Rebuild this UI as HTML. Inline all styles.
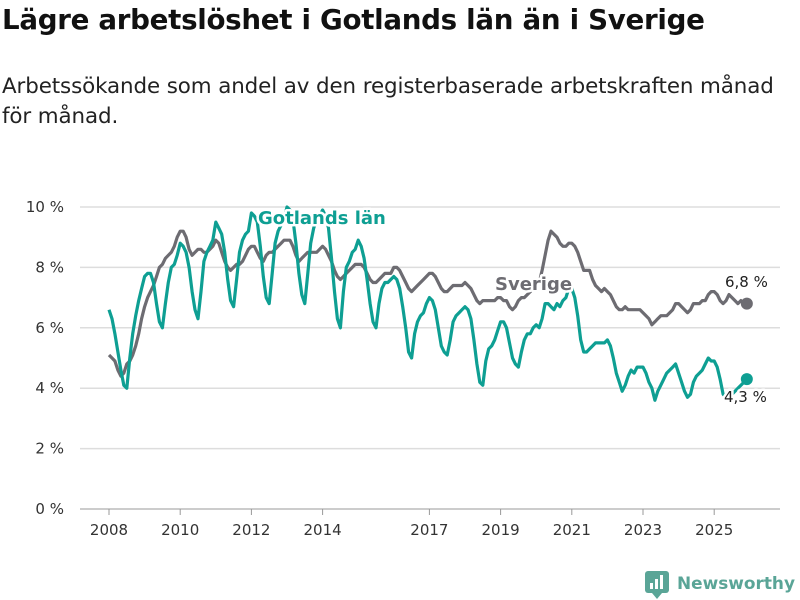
<!DOCTYPE html>
<html><head><meta charset="utf-8"><style>
body{margin:0;background:#fff;font-family:"Liberation Sans","DejaVu Sans",sans-serif;}
#wrap{position:relative;width:800px;height:600px;overflow:hidden}
h1{position:absolute;left:2px;top:3px;margin:0;font-size:27.7px;font-weight:bold;color:#111;font-family:"DejaVu Sans","Liberation Sans",sans-serif;letter-spacing:-0.3px}
p{position:absolute;left:2px;top:72px;margin:0;font-size:21.4px;line-height:30px;color:#222;width:792px;font-family:"DejaVu Sans","Liberation Sans",sans-serif;letter-spacing:-0.1px}
svg{position:absolute;left:0;top:0}
text{font-family:"DejaVu Sans","Liberation Sans",sans-serif}
</style></head><body><div id="wrap">
<h1>Lägre arbetslöshet i Gotlands län än i Sverige</h1>
<p>Arbetssökande som andel av den registerbaserade arbetskraften månad för månad.</p>
<svg id="chart" width="800" height="600"></svg>
</div>
<script>
const startYear = 2008;
const yTicks = [0,2,4,6,8,10];
const xTickYears = [2008,2010,2012,2014,2017,2019,2021,2023,2025];
const gotland = [
6.6,6.3,5.8,5.2,4.6,4.1,4.0,5.0,5.8,6.4,6.9,7.3,
7.7,7.8,7.8,7.5,6.8,6.2,6.0,6.8,7.5,8.0,8.1,8.4,
8.8,8.7,8.5,8.0,7.2,6.6,6.3,7.2,8.2,8.5,8.7,8.9,
9.5,9.3,9.1,8.5,7.6,6.9,6.7,7.6,8.5,8.9,9.1,9.2,
9.8,9.7,9.5,8.7,7.7,7.0,6.8,7.8,8.8,9.2,9.4,9.6,
10.0,9.9,9.6,8.8,7.8,7.1,6.8,7.8,8.8,9.3,9.6,9.7,
9.9,9.7,9.3,8.3,7.2,6.3,6.0,7.2,8.0,8.2,8.5,8.6,
8.9,8.7,8.3,7.6,6.8,6.2,6.0,6.8,7.3,7.5,7.5,7.6,
7.7,7.6,7.3,6.7,6.0,5.2,5.0,5.8,6.2,6.4,6.5,6.8,
7.0,6.9,6.6,6.0,5.4,5.2,5.1,5.6,6.2,6.4,6.5,6.6,
6.7,6.6,6.3,5.6,4.8,4.2,4.1,4.9,5.3,5.4,5.6,5.9,
6.2,6.2,6.0,5.5,5.0,4.8,4.7,5.2,5.6,5.8,5.8,6.0,
6.1,6.0,6.3,6.8,6.8,6.7,6.6,6.8,6.7,6.9,7.0,7.3,
7.3,7.0,6.4,5.6,5.2,5.2,5.3,5.4,5.5,5.5,5.5,5.5,
5.6,5.4,5.0,4.5,4.2,3.9,4.1,4.4,4.6,4.5,4.7,4.7,
4.7,4.5,4.2,4.0,3.6,3.9,4.1,4.3,4.5,4.6,4.7,4.8,
4.5,4.2,3.9,3.7,3.8,4.2,4.4,4.5,4.6,4.8,5.0,4.9,
4.9,4.7,4.3,3.8,3.7,3.7,3.8,3.9,4.0,4.1,4.2,4.3];
const sverige = [
5.1,5.0,4.9,4.6,4.4,4.5,4.8,4.9,5.1,5.4,5.8,6.3,
6.7,7.0,7.2,7.4,7.7,8.0,8.1,8.3,8.4,8.5,8.7,9.0,
9.2,9.2,9.0,8.6,8.4,8.5,8.6,8.6,8.5,8.5,8.6,8.7,
8.9,8.8,8.5,8.2,8.0,7.9,8.0,8.1,8.1,8.2,8.4,8.6,
8.7,8.7,8.5,8.3,8.2,8.4,8.5,8.5,8.6,8.7,8.8,8.9,
8.9,8.9,8.7,8.4,8.2,8.3,8.4,8.5,8.5,8.5,8.5,8.6,
8.7,8.6,8.4,8.2,7.9,7.7,7.6,7.7,7.8,7.9,8.0,8.1,
8.1,8.1,8.0,7.8,7.6,7.5,7.5,7.6,7.7,7.8,7.8,7.8,
8.0,8.0,7.9,7.7,7.5,7.3,7.2,7.3,7.4,7.5,7.6,7.7,
7.8,7.8,7.7,7.5,7.3,7.2,7.2,7.3,7.4,7.4,7.4,7.4,
7.5,7.4,7.3,7.1,6.9,6.8,6.9,6.9,6.9,6.9,6.9,7.0,
7.0,6.9,6.9,6.7,6.6,6.7,6.9,7.0,7.0,7.1,7.2,7.3,
7.4,7.5,7.9,8.4,8.9,9.2,9.1,9.0,8.8,8.7,8.7,8.8,
8.8,8.7,8.5,8.2,7.9,7.9,7.9,7.6,7.4,7.3,7.2,7.3,
7.2,7.1,6.9,6.7,6.6,6.6,6.7,6.6,6.6,6.6,6.6,6.6,
6.5,6.4,6.3,6.1,6.2,6.3,6.4,6.4,6.4,6.5,6.6,6.8,
6.8,6.7,6.6,6.5,6.6,6.8,6.8,6.8,6.9,6.9,7.1,7.2,
7.2,7.1,6.9,6.8,6.9,7.1,7.0,6.9,6.8,6.9,6.8,6.8];
const NS="http://www.w3.org/2000/svg";
const svg=document.getElementById('chart');
const x=i=>109+i*35.6/12;
const xYear=yr=>109+(yr-startYear)*35.6;
const y=v=>509-v*30.2;
function mk(tag,attrs,parent){const e=document.createElementNS(NS,tag);for(const k in attrs)e.setAttribute(k,attrs[k]);(parent||svg).appendChild(e);return e;}
yTicks.forEach(t=>{
  const g=mk('line',{x1:80,x2:780,y1:y(t),y2:y(t),stroke:t===0?'#999':'#ddd','stroke-width':t===0?1:1.5});
  
  
  const l=mk('text',{x:64,y:y(t)+5,'text-anchor':'end','font-size':15,fill:'#333'});
  l.textContent=t+' %';
  
  
});
xTickYears.forEach(yr=>{
  const tk=mk('line',{x1:xYear(yr),x2:xYear(yr),y1:509,y2:515,stroke:'#999'});
  
  
  const l=mk('text',{x:xYear(yr),y:535,'text-anchor':'middle','font-size':15,fill:'#333'});
  l.textContent=yr;
  
  
});
function line(data,color,name){
  const d=data.map((v,i)=>(i?'L':'M')+x(i).toFixed(1)+','+y(v).toFixed(1)).join('');
  const p=mk('path',{d:d,fill:'none',stroke:color,'stroke-width':3.2,'stroke-linejoin':'round'});
  
  
  const n=data.length-1;
  const c=mk('circle',{cx:x(n),cy:y(data[n]),r:6,fill:color});
  
  
}
line(sverige,'#6d6c72','sverige-line');
line(gotland,'#0e9f93','gotland-line');
function label(txt,xx,yy,opts,name){
  const t=mk('text',Object.assign({x:xx,y:yy,stroke:'#fff','stroke-width':5,'paint-order':'stroke','stroke-linejoin':'round'},opts));
  t.textContent=txt;
  
  
}
label('Gotlands län',258,224,{'font-size':18,'font-weight':'bold',fill:'#0e9f93'},'gotland-series-label');
label('Sverige',495,290,{'font-size':18,'font-weight':'bold',fill:'#6d6c72'},'sverige-series-label');
label('6,8 %',725,287,{'font-size':15,fill:'#222'},'sverige-end-value');
label('4,3 %',724,402,{'font-size':15,fill:'#222'},'gotland-end-value');
const lg=mk('g',{});


mk('rect',{x:645,y:571,width:24,height:22,rx:3,fill:'#5aa597'},lg);
[[650,6],[655,10],[660,14]].forEach(b=>mk('rect',{x:b[0],y:589-b[1],width:3,height:b[1],fill:'#fff'},lg));
mk('path',{d:'M652,593 L657,599 L662,593 Z',fill:'#5aa597'},lg);
const lt=mk('text',{x:677,y:589,'font-size':17,'font-weight':'bold',fill:'#5aa597',textLength:118,lengthAdjust:'spacingAndGlyphs'},lg);
lt.textContent='Newsworthy';
</script></body></html>
